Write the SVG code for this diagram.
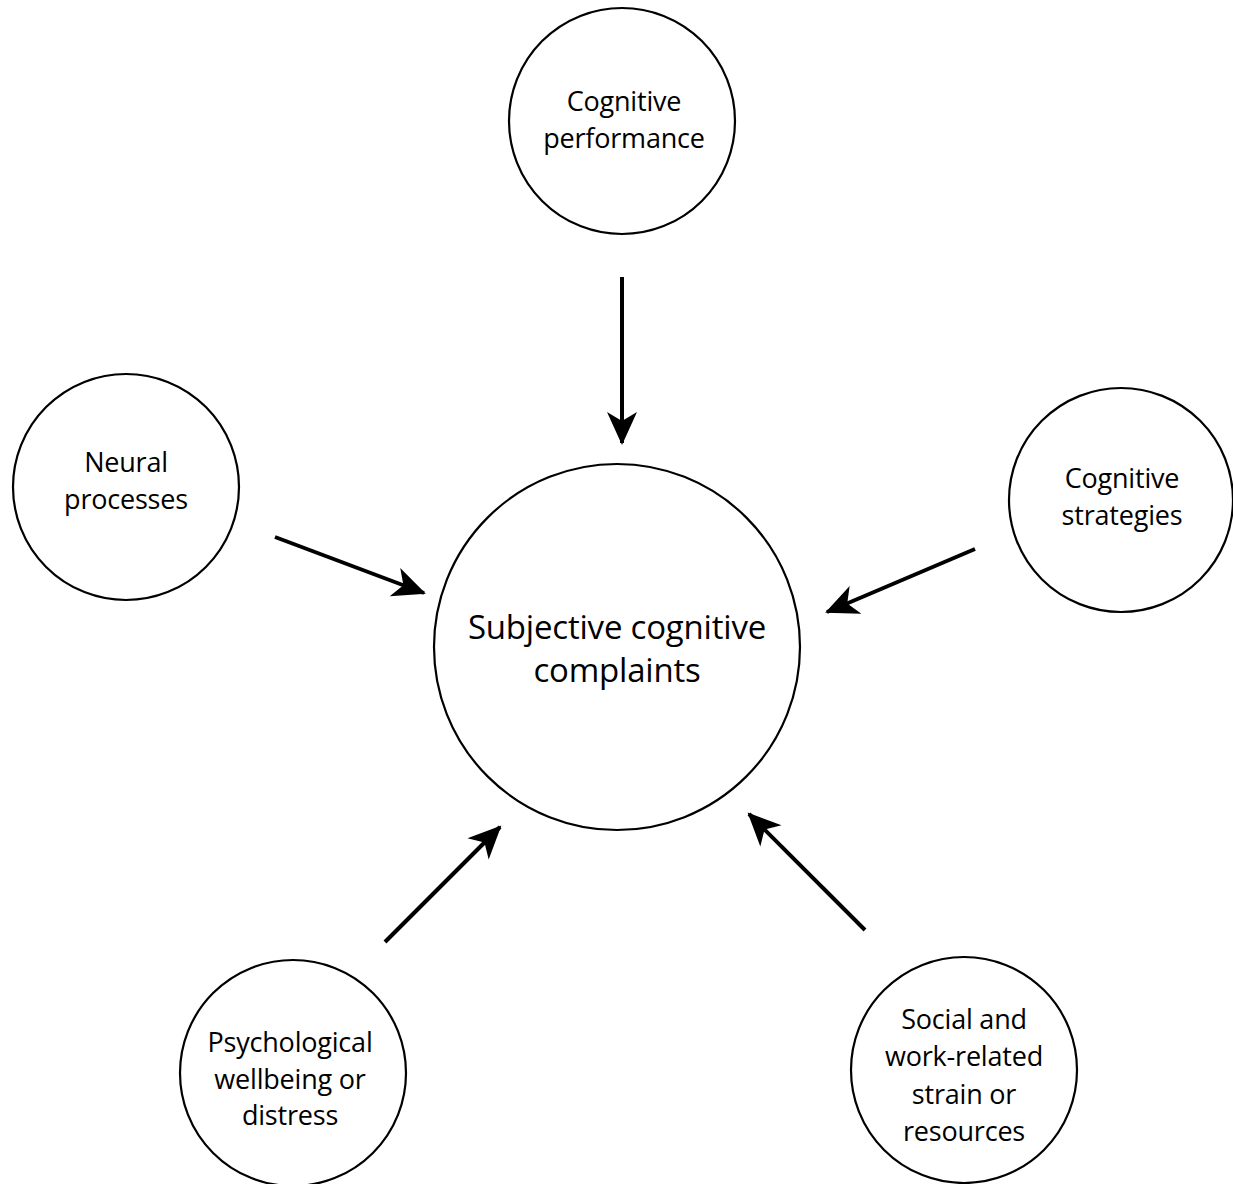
<svg xmlns="http://www.w3.org/2000/svg" width="1233" height="1184" viewBox="0 0 1233 1184">
<style>
.node circle{fill:#fff;stroke:#000;stroke-width:2.2}
.node text{font-family:"Open Sans","Noto Sans",sans-serif;font-size:27px;fill:#000;text-anchor:middle;letter-spacing:-0.2px}
.node.main text{font-size:33px}
#connectors line{stroke:#000;stroke-width:4;marker-end:url(#ah)}
</style>
<defs>
<marker id="ah" markerUnits="userSpaceOnUse" markerWidth="40" markerHeight="40" viewBox="-34 -20 40 40" refX="0" refY="0" orient="auto">
<path d="M2,0 L-31,-15 L-22,0 L-31,15 Z" fill="#000"/>
</marker>
</defs>
<rect width="1233" height="1184" fill="#fff"/>
<g id="connectors">
<line x1="622" y1="277" x2="622" y2="443"/>
<line x1="275" y1="537" x2="424" y2="593"/>
<line x1="975" y1="549" x2="827" y2="612"/>
<line x1="385" y1="942" x2="500" y2="827"/>
<line x1="865" y1="930" x2="749" y2="814"/>
</g>
<g id="node-performance" class="node">
<circle cx="622" cy="121" r="113"/>
<text x="624" y="111">Cognitive</text>
<text x="624" y="148">performance</text>
</g>
<g id="node-neural" class="node">
<circle cx="126" cy="487" r="113"/>
<text x="126" y="472">Neural</text>
<text x="126" y="509">processes</text>
</g>
<g id="node-strategies" class="node">
<circle cx="1121" cy="500" r="112"/>
<text x="1122" y="488">Cognitive</text>
<text x="1122" y="525">strategies</text>
</g>
<g id="node-main" class="node main">
<circle cx="617" cy="647" r="183"/>
<text x="617" y="639">Subjective cognitive</text>
<text x="617" y="682">complaints</text>
</g>
<g id="node-psych" class="node">
<circle cx="293" cy="1073" r="113"/>
<text x="290" y="1052">Psychological</text>
<text x="290" y="1089">wellbeing or</text>
<text x="290" y="1125">distress</text>
</g>
<g id="node-social" class="node">
<circle cx="964" cy="1070" r="113"/>
<text x="964" y="1029">Social and</text>
<text x="964" y="1066">work-related</text>
<text x="964" y="1104">strain or</text>
<text x="964" y="1141">resources</text>
</g>
</svg>
